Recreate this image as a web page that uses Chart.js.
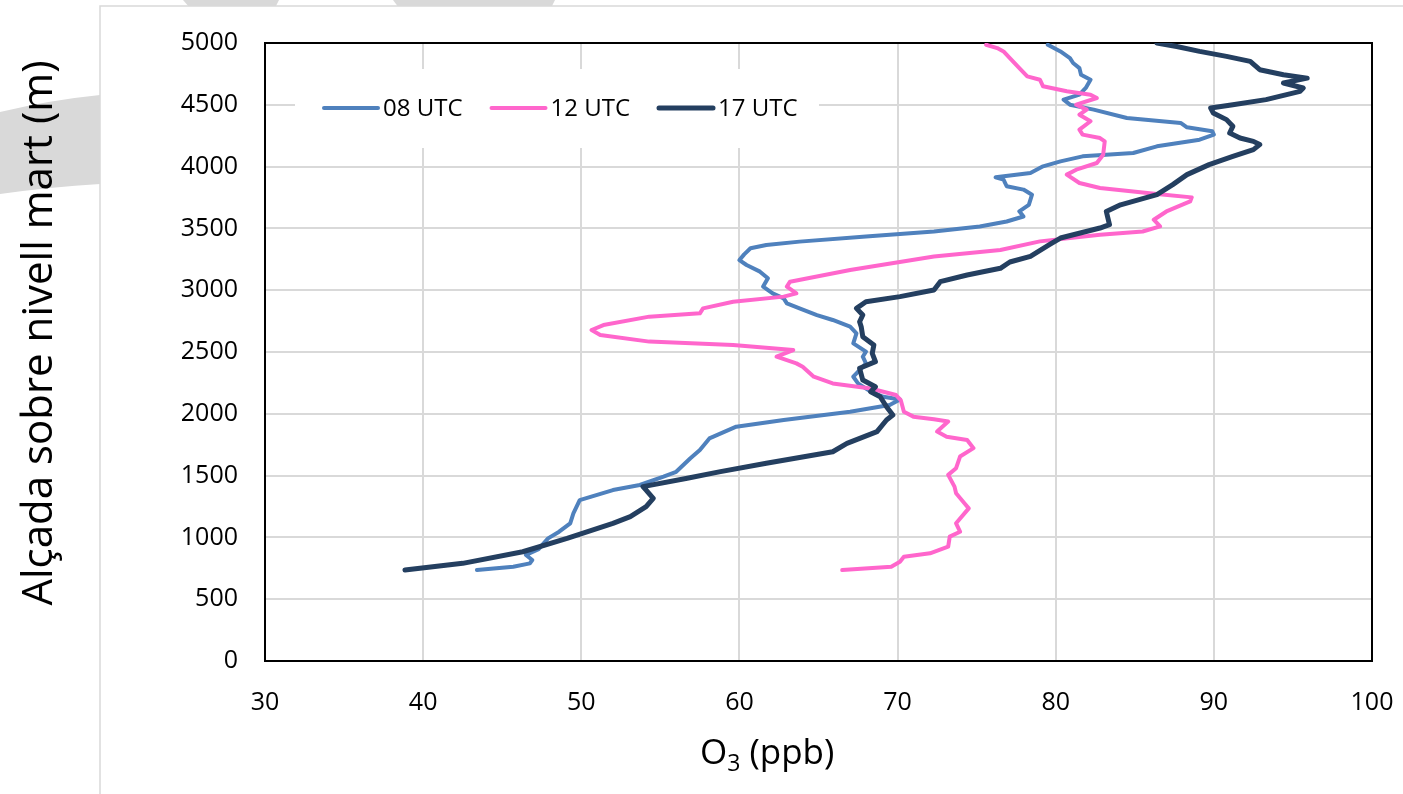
<!DOCTYPE html>
<html>
<head>
<meta charset="utf-8">
<script src="https://cdn.jsdelivr.net/npm/chart.js@4.4.1/dist/chart.umd.min.js"></script>
<style>
  html, body { margin: 0; padding: 0; background: #fff; }
  #wrap { width: 1403px; height: 794px; position: relative; }
</style>
</head>
<body>
<div id="wrap"><canvas id="ozoneChart"></canvas></div>
<script>
//ozone profiles
//08 UTC
const o3_08 = [43.4, 45.7, 46.75, 46.9, 46.5, 47.3, 47.9, 48.6, 49.3, 49.5, 49.9, 52.0, 53.7, 55.2, 56.0, 56.9, 57.5, 58.1, 59.8, 62.8,
  67.0, 69.5, 70.15, 69.1, 68.3, 67.5, 67.2, 67.6, 68.0, 67.8, 68.0, 67.2, 67.4, 67.0, 65.9, 64.9, 63.8, 63.0, 62.8, 62.1,
  61.5, 61.8, 61.3, 60.45, 60.0, 60.3, 60.7, 61.7, 63.8, 68.0, 72.3, 75.2, 76.9, 77.96, 77.7, 78.3, 78.5, 77.96, 76.9, 76.7,
  76.2, 78.4, 79.2, 80.3, 81.7, 84.9, 86.4, 89.1, 90.0, 89.9, 88.3, 87.9, 84.5, 82.4, 80.9, 80.5, 81.5, 81.9, 82.2, 81.6,
  81.5, 81.1, 80.9, 80.3, 79.5];
const alt_08 = [736, 763, 790, 817, 858, 905, 992, 1046, 1114, 1195, 1302, 1383, 1424, 1491, 1531, 1640, 1707, 1801, 1896, 1950,
  2017, 2071, 2115, 2138, 2179, 2246, 2300, 2354, 2408, 2462, 2503, 2570, 2651, 2705, 2759, 2799, 2853, 2893, 2934, 2974,
  3029, 3096, 3150, 3204, 3244, 3290, 3339, 3366, 3393, 3434, 3475, 3515, 3556, 3596, 3638, 3691, 3773, 3814, 3841, 3895,
  3914, 3948, 4002, 4042, 4083, 4110, 4164, 4218, 4259, 4286, 4318, 4353, 4393, 4461, 4501, 4542, 4582, 4636, 4703, 4743,
  4797, 4838, 4878, 4932, 4986];

//12 UTC
const o3_12 = [66.5, 69.6, 70.15, 70.4, 72.05, 73.2, 73.3, 73.95, 73.7, 74.5, 74.2, 73.7, 73.6, 73.2, 73.7, 73.95, 74.8, 74.4, 73.1, 72.5,
  73.2, 72.3, 71.0, 70.4, 70.2, 69.9, 68.3, 65.9, 64.7, 64.0, 63.6, 62.35, 63.4, 59.6, 54.3, 51.2, 50.65, 51.4, 54.3, 57.5,
  57.7, 59.6, 62.8, 63.6, 63.0, 63.2, 67.0, 72.3, 76.5, 79.0, 82.8, 85.5, 86.6, 86.2, 87.0, 88.5, 88.6, 86.4, 82.8, 81.5,
  80.7, 81.3, 82.6, 83.0, 83.1, 82.8, 81.7, 81.5, 82.2, 81.5, 81.96, 81.3, 82.6, 82.2, 80.7, 79.2, 79.0, 78.2, 77.7, 77.4,
  77.1, 76.7, 76.3, 75.6];
const alt_12 = [736, 763, 803, 844, 871, 925, 1006, 1046, 1114, 1235, 1280, 1357, 1411, 1506, 1560, 1654, 1722, 1788, 1815, 1856,
  1937, 1956, 1977, 2017, 2111, 2152, 2205, 2246, 2300, 2381, 2408, 2462, 2516, 2557, 2584, 2637, 2678, 2718, 2786, 2813,
  2853, 2907, 2948, 2974, 3029, 3069, 3163, 3272, 3325, 3395, 3449, 3475, 3516, 3570, 3637, 3718, 3751, 3778, 3827, 3867,
  3935, 3975, 4029, 4096, 4204, 4231, 4259, 4299, 4367, 4420, 4461, 4501, 4555, 4582, 4609, 4650, 4703, 4730, 4797, 4838,
  4878, 4932, 4959, 4986];

//17 UTC
const o3_17 = [38.85, 42.5, 46.3, 49.1, 52.0, 53.1, 54.1, 54.55, 54.1, 53.9, 56.7, 58.8, 61.7, 65.9, 66.8, 68.7, 69.3, 69.7, 69.3, 68.9,
  68.3, 68.6, 67.8, 67.6, 68.6, 68.4, 68.5, 67.8, 67.7, 67.6, 67.8, 67.4, 68.0, 70.15, 72.3, 72.7, 74.4, 76.5, 77.1, 78.4,
  79.6, 80.3, 82.8, 83.4, 83.2, 84.1, 86.4, 87.4, 88.3, 89.7, 91.2, 92.5, 92.9, 92.5, 91.65, 91.0, 91.2, 90.8, 89.96, 89.8,
  91.2, 93.3, 95.45, 95.65, 94.4, 95.9, 94.4, 92.9, 92.3, 90.8, 89.1, 87.65, 86.4];
const alt_17 = [736, 790, 884, 992, 1114, 1168, 1249, 1316, 1383, 1411, 1478, 1532, 1600, 1693, 1761, 1856, 1950, 1990, 2057, 2138,
  2179, 2219, 2273, 2368, 2422, 2489, 2557, 2624, 2705, 2745, 2799, 2853, 2907, 2948, 3001, 3069, 3123, 3177, 3228, 3274,
  3368, 3422, 3503, 3530, 3637, 3691, 3773, 3854, 3935, 4016, 4083, 4137, 4178, 4204, 4231, 4272, 4326, 4380, 4434, 4474,
  4501, 4542, 4609, 4636, 4676, 4716, 4743, 4784, 4851, 4892, 4932, 4972, 5000];

const seriesLabels = ['08 UTC', '12 UTC', '17 UTC'];

//axis texts
const xTitle = ['O', '3', ' (ppb)'];
const yTitle = 'Alçada sobre nivell mart (m)';

//styles
const COLORS = ['#4f81bd', '#ff66cc', '#243f60'];
const WIDTHS = [4, 4, 5];
const FONT = "'Open Sans', 'DejaVu Sans', sans-serif";
const GRID = '#d9d9d9';

Chart.defaults.font.family = FONT;
Chart.defaults.color = '#000';

function to_points(xs, ys) {
  return xs.map(function(v, i) { return {x: v, y: ys[i]}; });
}

//page background and the grey shapes behind the chart box
const decor = {
  id: 'decor',
  beforeDraw(chart) {
    const ctx = chart.ctx;
    ctx.save();
    ctx.fillStyle = '#fff';
    ctx.fillRect(0, 0, chart.width, chart.height);
    ctx.fillStyle = '#d9d9d9';
    ctx.beginPath();
    ctx.moveTo(0, 112);
    ctx.quadraticCurveTo(50, 100, 100, 95);
    ctx.lineTo(100, 184);
    ctx.quadraticCurveTo(50, 187, 0, 194);
    ctx.closePath();
    ctx.fill();
    ctx.beginPath();
    ctx.moveTo(183, 0); ctx.lineTo(279, 0); ctx.lineTo(275, 8); ctx.lineTo(190, 8);
    ctx.closePath();
    ctx.fill();
    ctx.beginPath();
    ctx.moveTo(393, 0); ctx.lineTo(555, 0); ctx.lineTo(551, 8); ctx.lineTo(399, 8);
    ctx.closePath();
    ctx.fill();
    //chart box
    ctx.fillStyle = '#fff';
    ctx.fillRect(100, 6, chart.width - 100, chart.height - 6);
    ctx.strokeStyle = '#d9d9d9';
    ctx.lineWidth = 1.5;
    ctx.beginPath();
    ctx.moveTo(100, chart.height);
    ctx.lineTo(100, 6);
    ctx.lineTo(chart.width, 6);
    ctx.stroke();
    ctx.restore();
  }
};

//plot frame + legend inside plot area
const frameLegend = {
  id: 'frameLegend',
  beforeDatasetsDraw(chart) {
    const ctx = chart.ctx;
    const a = chart.chartArea;
    ctx.save();
    //legend box hides the grid
    ctx.fillStyle = '#fff';
    ctx.fillRect(295, 69, 524, 79);
    ctx.strokeStyle = '#000';
    ctx.lineWidth = 2;
    ctx.strokeRect(a.left, a.top, a.right - a.left, a.bottom - a.top);

    ctx.font = '24px ' + FONT;
    ctx.textBaseline = 'middle';
    ctx.textAlign = 'left';
    let x = 324;
    const y = 108;
    chart.data.datasets.forEach(function(ds) {
      ctx.strokeStyle = ds.borderColor;
      ctx.lineWidth = ds.borderWidth;
      ctx.lineCap = 'round';
      ctx.beginPath();
      ctx.moveTo(x, y);
      ctx.lineTo(x + 54, y);
      ctx.stroke();
      ctx.fillStyle = '#000';
      ctx.fillText(ds.label, x + 59, y + 1);
      x += 59 + ctx.measureText(ds.label).width + 29;
    });
    ctx.restore();
  },
  afterDraw(chart) {
    const ctx = chart.ctx;
    ctx.save();
    ctx.fillStyle = '#000';
    //x title with subscript
    ctx.textBaseline = 'alphabetic';
    ctx.textAlign = 'left';
    let x = 700;
    const base = 764;
    ctx.font = '35px ' + FONT;
    ctx.fillText(xTitle[0], x, base);
    x += ctx.measureText(xTitle[0]).width;
    ctx.font = '23px ' + FONT;
    ctx.fillText(xTitle[1], x, base + 7);
    x += ctx.measureText(xTitle[1]).width;
    ctx.font = '35px ' + FONT;
    ctx.fillText(xTitle[2], x, base);
    //y title
    ctx.translate(52, 333);
    ctx.rotate(-Math.PI / 2);
    ctx.textAlign = 'center';
    ctx.font = '42px ' + FONT;
    ctx.fillText(yTitle, 0, 0);
    ctx.restore();
  }
};

const datasets = [
  [o3_08, alt_08],
  [o3_12, alt_12],
  [o3_17, alt_17]
].map(function(s, i) {
  return {
    label: seriesLabels[i],
    data: to_points(s[0], s[1]),
    showLine: true,
    borderColor: COLORS[i],
    backgroundColor: COLORS[i],
    borderWidth: WIDTHS[i],
    pointRadius: 0,
    fill: false,
    tension: 0,
    borderJoinStyle: 'round',
    borderCapStyle: 'round',
    order: 3 - i
  };
});

const ozoneChart = new Chart(document.getElementById('ozoneChart'), {
  type: 'scatter',
  data: { datasets: datasets },
  options: {
    responsive: true,
    maintainAspectRatio: false,
    animation: false,
    layout: { padding: { top: 43, right: 31, left: 0, bottom: 0 } },
    plugins: {
      legend: { display: false },
      tooltip: { enabled: false }
    },
    scales: {
      x: {
        type: 'linear',
        min: 30,
        max: 100,
        afterFit: function(scale) {
          scale.height = 133;
          scale.paddingLeft = 0;
          scale.paddingRight = 0;
        },
        ticks: {
          stepSize: 10,
          padding: 27,
          font: { size: 25 },
          color: '#000',
          callback: function(v) { return String(v); }
        },
        grid: { color: GRID, lineWidth: 2, drawTicks: false },
        border: { display: true, color: '#000', width: 2 }
      },
      y: {
        type: 'linear',
        min: 0,
        max: 5000,
        afterFit: function(scale) {
          scale.width = 265;
          scale.paddingTop = 0;
          scale.paddingBottom = 0;
        },
        ticks: {
          stepSize: 500,
          padding: 27,
          font: { size: 25 },
          color: '#000',
          callback: function(v) { return String(v); }
        },
        grid: { color: GRID, lineWidth: 2, drawTicks: false },
        border: { display: true, color: '#000', width: 2 }
      }
    }
  },
  plugins: [decor, frameLegend]
});
</script>
</body>
</html>
